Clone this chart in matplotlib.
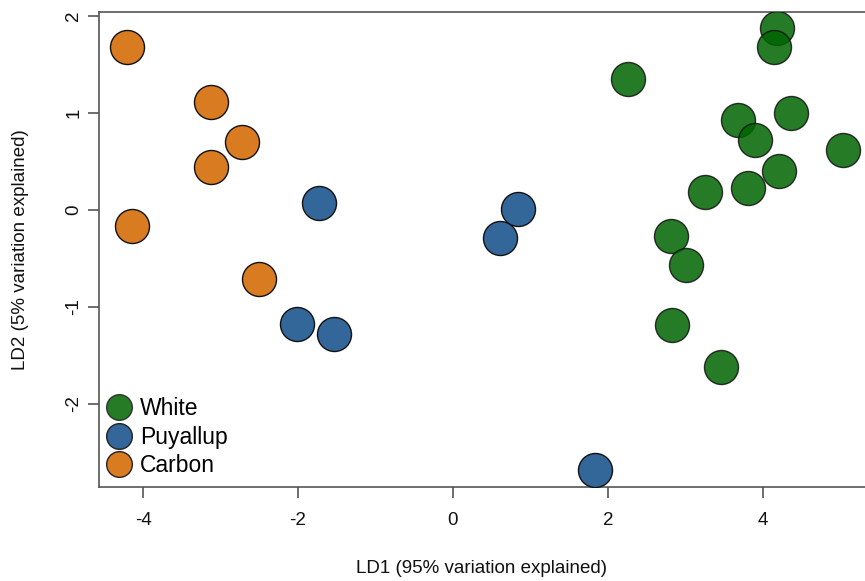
import numpy as np
import matplotlib.pyplot as plt
from matplotlib.lines import Line2D

plt.rcParams['font.family'] = ['Liberation Sans', 'DejaVu Sans']

# LD scores
carbon_x = [-4.21, -3.12, -2.72, -3.12, -4.14, -2.50]
carbon_y = [1.68, 1.11, 0.70, 0.44, -0.17, -0.71]

puyallup_x = [-1.73, -2.01, -1.54, 0.61, 0.84, 1.83]
puyallup_y = [0.07, -1.18, -1.28, -0.29, 0.01, -2.68]

white_x = [2.26, 4.19, 4.15, 4.36, 3.68, 3.90, 5.03, 4.21, 3.26, 3.81, 2.81, 3.01, 2.83, 3.46]
white_y = [1.35, 1.87, 1.68, 1.00, 0.93, 0.72, 0.62, 0.40, 0.18, 0.22, -0.27, -0.57, -1.19, -1.62]

groups = ['White', 'Puyallup', 'Carbon']
cols = {'White': '#006400', 'Puyallup': '#336699', 'Carbon': '#d97b20'}
alphas = {'White': 0.85, 'Puyallup': 1.0, 'Carbon': 1.0}

fig = plt.figure(figsize=(8.65, 5.81), dpi=100)
ax = fig.add_axes([99/865, 1-487/581, 1-99/865, (487-12)/581])

data = {'White': (white_x, white_y), 'Puyallup': (puyallup_x, puyallup_y),
        'Carbon': (carbon_x, carbon_y)}
for g in ['Carbon', 'Puyallup', 'White']:
    x, y = data[g]
    ax.scatter(x, y, s=600, c=cols[g], alpha=alphas[g], edgecolors='#111111',
               linewidths=1.0, zorder=3)

ax.set_xlim(-4.57, 5.32)
ax.set_ylim(-2.86, 2.04)
ax.set_xticks([-4, -2, 0, 2, 4])
ax.set_yticks([-2, -1, 0, 1, 2])
ax.set_yticklabels(['-2', '-1', '0', '1', '2'], rotation=90, va='center')
ax.set_xticklabels(['-4', '-2', '0', '2', '4'])

for s in ['left', 'bottom', 'top']:
    ax.spines[s].set_color('#555555')
    ax.spines[s].set_linewidth(1.2)
ax.spines['right'].set_visible(False)
ax.tick_params(colors='#555555', length=8, width=1.2, labelsize=13.5,
               labelcolor='#111111')
ax.tick_params(axis='x', pad=10)
ax.tick_params(axis='y', pad=4)

ax.set_xlabel('LD1 (95% variation explained)', fontsize=13.5, color='#111111', labelpad=22)
ax.set_ylabel('LD2 (5% variation explained)', fontsize=13.5, color='#111111', labelpad=26)

handles = [Line2D([], [], marker='o', ls='', markersize=18.5, markerfacecolor=cols[g],
                  markeredgecolor='#222222', alpha=alphas[g]) for g in groups]
ax.legend(handles, groups, loc='lower left', bbox_to_anchor=(0.008, 0.02),
          frameon=False, fontsize=16.5, handletextpad=0.32, labelspacing=0.25,
          borderaxespad=0, borderpad=0, handlelength=1.2)

fig.savefig('out.png', dpi=100)
